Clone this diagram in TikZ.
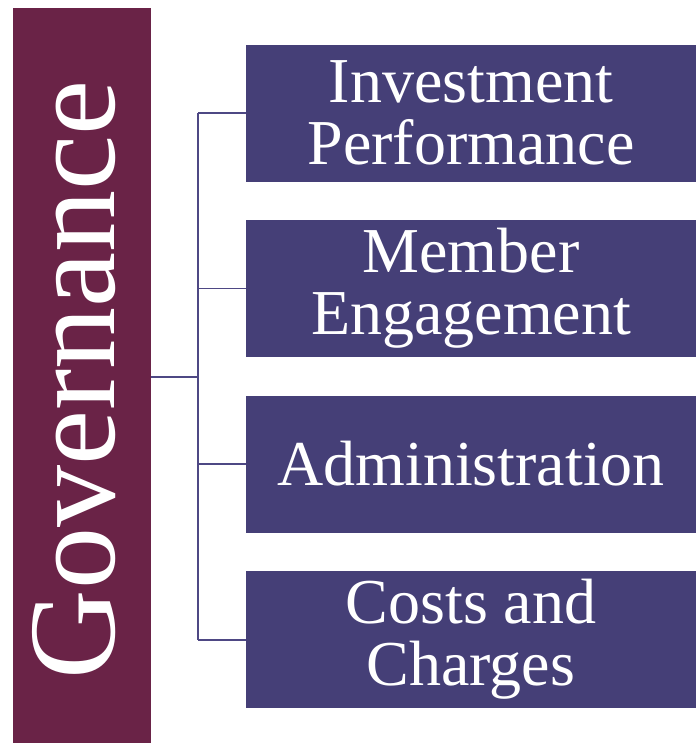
\documentclass[tikz,border=0pt]{standalone}
\usepackage{fontspec}
\setmainfont{Liberation Serif}
\usetikzlibrary{positioning}

\definecolor{govred}{RGB}{106,35,71}
\definecolor{areablue}{RGB}{69,63,119}
\definecolor{linkblue}{RGB}{78,72,132}

\begin{document}
\begin{tikzpicture}[x=0.75pt,y=-0.75pt,
    govbar/.style={rectangle,fill=govred,minimum width=103.5pt,minimum height=551.25pt,inner sep=0},
    govtext/.style={rotate=90,text=white,inner sep=0,font=\fontsize{93}{96}\selectfont},
    area/.style={rectangle,fill=areablue,text=white,align=center,minimum width=337.5pt,minimum height=102.75pt,inner sep=0,font=\fontsize{48}{46.5}\selectfont},
    link/.style={draw=linkblue,line width=1.4pt}]
    \useasboundingbox (0,0) rectangle (696,743);

    % nodes
    \node[govbar] (gov) at (82,375.5) {};
    \node[govtext] (govlabel) at (74,380) {Governance};
    \node[area] (inv) at (471,113) {Investment\\Performance};
    \node[area,below=28.5pt of inv] (mem) {Member\\Engagement};
    \node[area,below=28.5pt of mem] (adm) {Administration};
    \node[area,below=28.5pt of adm] (cost) {Costs and\\Charges};
    \coordinate (hub) at (198,377);

    % paths
    \draw[link] (hub-|gov.east) -- (hub);
    \draw[link] (hub|-inv.west) -- (hub|-cost.west);
    \foreach \b in {inv,mem,adm,cost}
        \draw[link] (hub|-\b.west) -- (\b.west);
\end{tikzpicture}
\end{document}
